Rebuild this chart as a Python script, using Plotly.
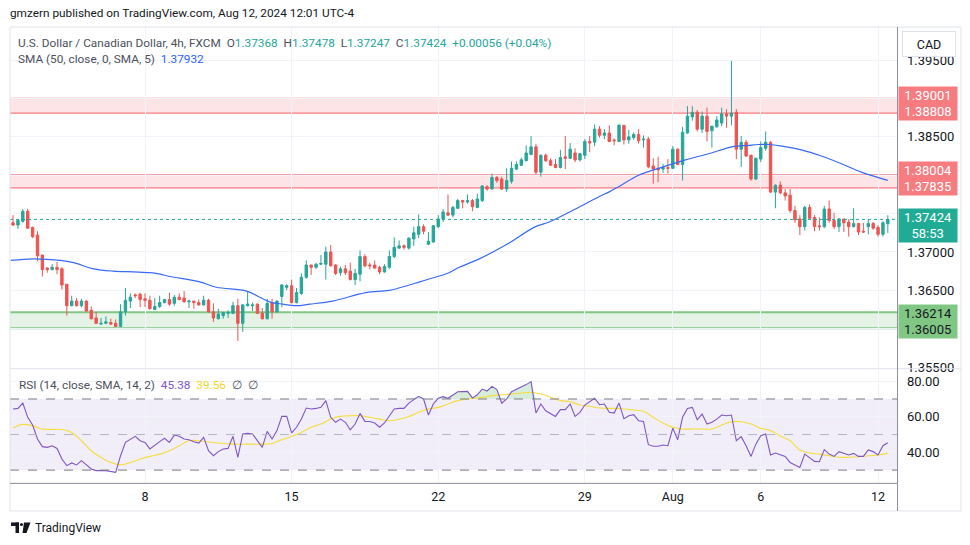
import plotly.graph_objects as go
import numpy as np

# ---------------- data ----------------
bar_pos = list(range(-27, 153))   # 4h bar positions (0 = Mon Jul 8 first bar)

opens = [1.3738,1.3735,1.3740,1.3753,1.3732,1.3722,1.3696,1.3679,1.3677,1.3680,
         1.3678,1.3658,1.3630,1.3636,1.3630,1.3636,1.3624,1.3614,1.3606,1.3607,
         1.3608,1.3607,1.3603,1.3622,1.3636,1.3644,1.3645,1.3639,1.3637,1.3625,
         1.3629,1.3634,1.3638,1.3633,1.3641,1.3640,1.3635,1.3636,1.3634,1.3631,
         1.3637,1.3622,1.3613,1.3617,1.3620,1.3620,1.3630,1.3607,1.3630,1.3630,
         1.3632,1.3620,1.3613,1.3634,1.3622,1.3642,1.3654,1.3656,1.3634,1.3646,
         1.3667,1.3683,1.3680,1.3684,1.3684,1.3700,1.3683,1.3673,1.3678,1.3675,
         1.3664,1.3671,1.3694,1.3683,1.3683,1.3680,1.3674,1.3680,1.3694,1.3705,
         1.3708,1.3705,1.3717,1.3723,1.3733,1.3710,1.3713,1.3733,1.3743,1.3751,
         1.3748,1.3757,1.3767,1.3765,1.3767,1.3758,1.3767,1.3785,1.3782,1.3797,
         1.3795,1.3782,1.3792,1.3808,1.3813,1.3819,1.3827,1.3837,1.3804,1.3826,
         1.3819,1.3814,1.3810,1.3824,1.3822,1.3829,1.3820,1.3826,1.3844,1.3843,
         1.3860,1.3852,1.3855,1.3846,1.3844,1.3865,1.3846,1.3849,1.3853,1.3846,
         1.3847,1.3812,1.3809,1.3808,1.3810,1.3809,1.3834,1.3814,1.3855,1.3876,
         1.3882,1.3860,1.3877,1.3858,1.3863,1.3868,1.3880,1.3877,1.3882,1.3834,
         1.3843,1.3826,1.3795,1.3821,1.3835,1.3843,1.3778,1.3787,1.3777,1.3774,
         1.3754,1.3743,1.3733,1.3758,1.3745,1.3734,1.3733,1.3756,1.3741,1.3733,
         1.3743,1.3739,1.3733,1.3737,1.3727,1.3733,1.3737,1.3732,1.3723,1.37368]
highs = [1.3748,1.3742,1.3756,1.3756,1.3733,1.3727,1.3696,1.3680,1.3684,1.3687,
         1.3680,1.3658,1.3643,1.3640,1.3639,1.3637,1.3629,1.3622,1.3614,1.3616,
         1.3613,1.3612,1.3632,1.3653,1.3646,1.3646,1.3647,1.3646,1.3643,1.3640,
         1.3643,1.3639,1.3647,1.3644,1.3646,1.3649,1.3638,1.3636,1.3638,1.3643,
         1.3639,1.3633,1.3626,1.3622,1.3624,1.3635,1.3639,1.3632,1.3649,1.3634,
         1.3633,1.3627,1.3639,1.3639,1.3637,1.3658,1.3658,1.3664,1.3653,1.3672,
         1.3689,1.3683,1.3686,1.3696,1.3707,1.3709,1.3684,1.3681,1.3683,1.3686,
         1.3678,1.3702,1.3697,1.3686,1.3689,1.3682,1.3684,1.3702,1.3719,1.3715,
         1.3710,1.3719,1.3733,1.3749,1.3736,1.3726,1.3735,1.3748,1.3756,1.3775,
         1.3760,1.3769,1.3768,1.3775,1.3769,1.3776,1.3787,1.3787,1.3802,1.3799,
         1.3798,1.3809,1.3818,1.3818,1.3823,1.3839,1.3851,1.3841,1.3827,1.3828,
         1.3822,1.3821,1.3833,1.3851,1.3842,1.3835,1.3829,1.3847,1.3851,1.3866,
         1.3864,1.3860,1.3865,1.3848,1.3867,1.3865,1.3859,1.3856,1.3860,1.3852,
         1.3850,1.3822,1.3824,1.3815,1.3821,1.3838,1.3835,1.3863,1.3890,1.3890,
         1.3885,1.3883,1.3888,1.3864,1.3877,1.3888,1.3886,1.3949,1.3886,1.3851,
         1.3846,1.3827,1.3823,1.3844,1.3857,1.3844,1.3788,1.3792,1.3782,1.3782,
         1.3760,1.3748,1.3760,1.3762,1.3748,1.3745,1.3760,1.3767,1.3751,1.3744,
         1.3743,1.3743,1.3757,1.3738,1.3738,1.3743,1.3739,1.3735,1.3740,1.37478]
lows = [1.3734,1.3730,1.3738,1.3730,1.3718,1.3688,1.3668,1.3673,1.3676,1.3671,
        1.3651,1.3617,1.3629,1.3629,1.3628,1.3622,1.3612,1.3606,1.3605,1.3606,
        1.3605,1.3602,1.3602,1.3617,1.3627,1.3640,1.3628,1.3628,1.3625,1.3624,
        1.3627,1.3633,1.3630,1.3630,1.3637,1.3634,1.3627,1.3626,1.3630,1.3630,
        1.3621,1.3609,1.3612,1.3613,1.3614,1.3619,1.3584,1.3596,1.3629,1.3623,
        1.3619,1.3612,1.3612,1.3613,1.3621,1.3628,1.3650,1.3633,1.3633,1.3644,
        1.3665,1.3670,1.3678,1.3683,1.3664,1.3681,1.3670,1.3669,1.3670,1.3663,
        1.3657,1.3662,1.3680,1.3677,1.3678,1.3671,1.3673,1.3678,1.3692,1.3704,
        1.3703,1.3703,1.3708,1.3718,1.3723,1.3709,1.3712,1.3731,1.3739,1.3747,
        1.3745,1.3756,1.3757,1.3763,1.3753,1.3757,1.3765,1.3780,1.3781,1.3790,
        1.3781,1.3778,1.3789,1.3807,1.3812,1.3818,1.3826,1.3801,1.3798,1.3817,
        1.3812,1.3809,1.3809,1.3808,1.3821,1.3817,1.3818,1.3821,1.3830,1.3838,
        1.3849,1.3847,1.3843,1.3839,1.3843,1.3840,1.3841,1.3846,1.3841,1.3836,
        1.3809,1.3789,1.3791,1.3803,1.3802,1.3808,1.3813,1.3793,1.3854,1.3871,
        1.3857,1.3855,1.3844,1.3836,1.3862,1.3864,1.3862,1.3865,1.3821,1.3811,
        1.3824,1.3793,1.3794,1.3817,1.3832,1.3777,1.3757,1.3775,1.3767,1.3751,
        1.3738,1.3722,1.3728,1.3743,1.3727,1.3728,1.3731,1.3738,1.3730,1.3726,
        1.3726,1.3720,1.3732,1.3722,1.3725,1.3723,1.3729,1.3720,1.3720,1.37247]
closes = [1.3735,1.3741,1.3753,1.3731,1.3720,1.3695,1.3677,1.3677,1.3680,1.3677,
          1.3657,1.3630,1.3636,1.3630,1.3636,1.3623,1.3613,1.3607,1.3607,1.3609,
          1.3606,1.3603,1.3622,1.3637,1.3641,1.3643,1.3638,1.3637,1.3626,1.3629,
          1.3634,1.3638,1.3632,1.3641,1.3638,1.3635,1.3636,1.3634,1.3631,1.3637,
          1.3622,1.3614,1.3619,1.3621,1.3621,1.3630,1.3607,1.3631,1.3632,1.3631,
          1.3620,1.3613,1.3633,1.3622,1.3636,1.3657,1.3656,1.3634,1.3647,1.3667,
          1.3683,1.3680,1.3684,1.3685,1.3700,1.3682,1.3672,1.3678,1.3673,1.3664,
          1.3672,1.3694,1.3682,1.3682,1.3679,1.3674,1.3681,1.3694,1.3706,1.3708,
          1.3706,1.3718,1.3725,1.3733,1.3727,1.3714,1.3734,1.3743,1.3752,1.3748,
          1.3758,1.3767,1.3765,1.3767,1.3759,1.3769,1.3786,1.3782,1.3797,1.3793,
          1.3782,1.3793,1.3809,1.3814,1.3820,1.3829,1.3837,1.3804,1.3826,1.3819,
          1.3813,1.3810,1.3823,1.3822,1.3834,1.3820,1.3828,1.3844,1.3842,1.3860,
          1.3852,1.3855,1.3844,1.3845,1.3865,1.3846,1.3850,1.3853,1.3845,1.3847,
          1.3811,1.3808,1.3807,1.3810,1.3809,1.3834,1.3814,1.3856,1.3877,1.3882,
          1.3860,1.3877,1.3857,1.3864,1.3872,1.3880,1.3877,1.3881,1.3834,1.3843,
          1.3825,1.3795,1.3822,1.3836,1.3843,1.3778,1.3787,1.3777,1.3773,1.3754,
          1.3742,1.3733,1.3758,1.3744,1.3733,1.3733,1.3756,1.3741,1.3733,1.3743,
          1.3738,1.3733,1.3737,1.3726,1.3726,1.3737,1.3731,1.3723,1.3738,1.37424]

sma_pos = [-27.5,-22.8,-17.3,-14.6,-10.5,-6.5,-2.4,1.0,3.1,5.1,11.2,14.6,20.8,23.5,25.5,28.2,
           31.0,33.7,38.4,45.2,50.0,54.1,58.8,62.2,64.3,68.4,73.8,79.9,82.7,88.1,90.8,92.9,
           94.9,96.9,101.0,105.1,110.6,115.3,120.1,123.5,125.5,127.6,130.3,134.3,138.4,142.5,
           146.6,152.0]
sma_vals = [1.3689,1.3691,1.3689,1.3686,1.3678,1.3675,1.3674,1.3673,1.3671,1.3668,1.3661,1.3654,
            1.3649,1.3641,1.3635,1.3632,1.3630,1.3632,1.3636,1.3647,1.3650,1.3657,1.3666,1.3673,
            1.3680,1.3691,1.3709,1.3733,1.3739,1.3756,1.3765,1.3772,1.3778,1.3785,1.3800,1.3809,
            1.3820,1.3828,1.3837,1.3839,1.3840,1.3840,1.3838,1.3833,1.3825,1.3815,1.3804,1.37932]

rsi_pos = [-27,-26,-25,-24,-23,-22,-21,-20,-19,-18,-17,-16,-15,-14,-13,-12,-11,-10,-9,-8,
           -6,-5,-4,-3,-2,-1,0,1,2,3,4,5,6,7,8,9,10,11,12,13,14,15,16,17,18,19,20,21,22,23,
           24,25,26,27,28,29,30,31,32,33,34,35,36,37,38,39,40,41,42,43,44,45,46,47,48,49,50,
           51,52,53,54,56,57,58,59,60,61,62,64,65,66,67,68,69,70,71,72,73,74,75,77,78,79,80,
           81,82,84,85,86,87,88,89,90,92,93,94,95,96,97,98,99,100,101,102,103,104,105,106,107,
           108,109,110,111,112,113,114,115,116,117,118,119,120,121,122,123,124,125,126,127,
           128,129,130,131,132,133,134,135,136,137,138,139,140,141,142,143,144,145,146,147,
           148,149,150,151,152]
rsi_vals = [64.4,64.7,67.7,59.7,55.4,47.5,43.2,42.8,43.7,42.2,36.2,32.5,34.0,32.9,35.3,32.9,
            30.6,29.7,29.7,29.7,28.7,38.1,45.6,47.5,49.0,46.5,45.6,41.9,43.7,46.0,47.9,45.6,
            49.7,49.0,47.5,47.1,46.0,45.2,48.4,40.9,38.1,40.4,41.9,42.2,49.0,37.2,50.3,50.7,
            50.3,46.5,42.8,51.8,47.5,52.2,60.2,60.2,50.9,54.1,58.7,64.9,64.4,64.7,65.3,69.1,
            59.7,56.9,58.7,56.9,52.7,55.9,61.9,57.4,57.3,56.5,54.1,56.5,60.6,64.4,64.7,64.7,
            67.7,71.5,70.0,61.0,67.2,70.4,71.3,70.4,74.1,74.1,74.3,70.6,72.4,75.6,74.5,77.1,
            75.3,67.6,70.0,74.1,76.6,78.1,79.8,62.1,67.2,63.4,60.2,64.0,64.0,67.2,60.2,62.5,
            66.6,70.4,66.8,67.2,62.5,62.1,67.7,58.9,60.6,61.2,57.8,57.4,44.3,43.4,43.4,44.1,
            43.7,53.6,47.1,59.7,64.7,65.3,58.3,61.5,55.9,56.9,58.7,61.0,60.6,61.0,46.5,48.8,
            43.7,37.7,44.6,49.3,50.3,38.5,39.6,38.7,37.7,34.3,32.8,31.5,39.0,37.2,34.9,34.7,
            41.5,39.0,37.7,40.4,39.6,38.5,39.4,37.7,37.7,41.3,40.4,38.5,43.7,45.38]

rsi_ma_pos = [-27,-25,-23,-21,-17,-15,-13,-11,-9,-7,-5,-3,-1,1,3,5,7,9,11,15,18,21,24,26,28,
              30,32,34,36,38,40,42,44,46,48,50,52,54,56,58,60,62,64,66,69,71,73,75,77,79,81,
              83,85,87,89,91,93,96,98,100,102,104,106,108,110,112,114,116,118,120,122,124,126,
              128,130,132,134,136,138,140,142,144,146,148,150,152]
rsi_ma_vals = [53.7,55.7,55.0,53.1,52.8,51.2,46.5,40.9,37.2,34.3,33.0,34.3,36.2,37.7,39.0,40.9,
               43.7,46.5,46.5,45.2,44.6,44.6,44.6,45.0,47.1,48.9,51.2,54.1,55.9,58.7,60.2,60.6,
               60.6,59.7,58.7,57.8,58.7,60.2,62.5,64.4,65.3,67.2,69.1,70.0,70.9,71.9,72.4,72.8,
               73.4,73.8,72.8,71.0,69.1,68.5,66.6,65.9,64.9,64.7,64.4,63.8,63.1,59.7,56.5,54.1,
               53.1,53.1,53.1,53.1,55.4,57.2,57.2,55.9,53.6,52.2,49.3,46.5,41.3,39.6,39.0,38.1,
               37.2,37.2,37.5,38.1,38.5,39.56]

week_tick_pos = [0, 30, 60, 90, 108, 126, 150]
week_tick_text = ["8", "15", "22", "29", "Aug", "6", "12"]

main_ticks = [1.355, 1.360, 1.365, 1.370, 1.375, 1.380, 1.385, 1.390, 1.395]
main_tick_text = ["1.35500", "", "1.36500", "1.37000", "", "", "1.38500", "", "1.39500"]
rsi_ticks = [40, 60, 80]

zone_hi_top, zone_hi_bot = 1.39001, 1.38808
zone_mid_top, zone_mid_bot = 1.38004, 1.37835
zone_lo_top, zone_lo_bot = 1.36214, 1.36005
last_price = 1.37424

# ---------------- layout helpers ----------------
# positions are expressed in reference pixels (970 x 545) and converted to paper fractions
W, H = 970, 545
FIG_H = 553          # captured page is squeezed vertically by ~545/553
def fx(p): return p / W
def fy(p): return 1 - p / H

FONT = "Roboto, sans-serif"
UP, DN = "#26a69a", "#ef5350"
GRID = "#f0f3fa"
TXT = "#131722"
AX = "#8c8f99"

x_rng = [(10 - 145) / 4.887, (897 - 145) / 4.887]

fig = go.Figure()

fig.add_trace(go.Candlestick(
    x=bar_pos, open=opens, high=highs, low=lows, close=closes,
    increasing=dict(line=dict(color=UP, width=1), fillcolor=UP),
    decreasing=dict(line=dict(color=DN, width=1), fillcolor=DN),
    whiskerwidth=0, showlegend=False, hoverinfo="skip", xaxis="x", yaxis="y"))

fig.add_trace(go.Scatter(x=sma_pos, y=sma_vals, mode="lines",
                         line=dict(color="#3a6af5", width=1.2, shape="spline"),
                         showlegend=False, hoverinfo="skip", xaxis="x", yaxis="y"))

# RSI overbought fill
rsi_arr = np.array(rsi_vals)
fig.add_trace(go.Scatter(x=rsi_pos, y=[70] * len(rsi_pos), mode="lines",
                         line=dict(width=0), showlegend=False, hoverinfo="skip",
                         xaxis="x2", yaxis="y2"))
fig.add_trace(go.Scatter(x=rsi_pos, y=np.maximum(rsi_arr, 70), mode="lines",
                         line=dict(width=0), fill="tonexty",
                         fillcolor="rgba(76,175,80,0.22)", showlegend=False,
                         hoverinfo="skip", xaxis="x2", yaxis="y2"))
fig.add_trace(go.Scatter(x=rsi_ma_pos, y=rsi_ma_vals, mode="lines",
                         line=dict(color="#f5dd3b", width=1.1, shape="spline"),
                         showlegend=False, hoverinfo="skip", xaxis="x2", yaxis="y2"))
fig.add_trace(go.Scatter(x=rsi_pos, y=rsi_vals, mode="lines",
                         line=dict(color="#7e57c2", width=1.1),
                         showlegend=False, hoverinfo="skip", xaxis="x2", yaxis="y2"))

shapes = []
# RSI background band and levels
shapes.append(dict(type="rect", xref="x2 domain", yref="y2", x0=0, x1=1, y0=30, y1=70,
                   fillcolor="rgba(126,87,194,0.10)", line=dict(width=0), layer="below"))
for lvl, col in [(70, "#787b86"), (50, "#b2b5be"), (30, "#787b86")]:
    shapes.append(dict(type="line", xref="x2 domain", yref="y2", x0=0, x1=1, y0=lvl, y1=lvl,
                       line=dict(color=col, width=1, dash="dash")))
# zones
for top, bot, fill, edge, w in [
        (zone_hi_top, zone_hi_bot, "rgba(242,54,69,0.13)", "#f77c80", 1.3),
        (zone_mid_top, zone_mid_bot, "rgba(242,54,69,0.13)", "#f77c80", 1.3),
        (zone_lo_top, zone_lo_bot, "rgba(76,175,80,0.15)", "#81c784", 2)]:
    shapes.append(dict(type="rect", xref="x domain", yref="y", x0=0, x1=1, y0=bot, y1=top,
                       fillcolor=fill, line=dict(width=0), layer="below"))
    for yy in (top, bot):
        shapes.append(dict(type="line", xref="x domain", yref="y", x0=0, x1=1, y0=yy, y1=yy,
                           line=dict(color=edge, width=w), layer="below"))
# last price dotted line
shapes.append(dict(type="line", xref="x domain", yref="y", x0=0, x1=1,
                   y0=last_price, y1=last_price, line=dict(color=UP, width=1, dash="dot")))
# frame and separators
shapes.append(dict(type="rect", xref="paper", yref="paper", x0=fx(10), x1=fx(961),
                   y0=fy(510), y1=fy(27), line=dict(color="#e0e3eb", width=1)))
shapes.append(dict(type="line", xref="paper", yref="paper", x0=fx(10), x1=fx(961),
                   y0=fy(368), y1=fy(368), line=dict(color="#e0e3eb", width=1)))
shapes.append(dict(type="line", xref="paper", yref="paper", x0=fx(10), x1=fx(897),
                   y0=fy(482.5), y1=fy(482.5), line=dict(color=AX, width=1)))
shapes.append(dict(type="line", xref="paper", yref="paper", x0=fx(897.5), x1=fx(897.5),
                   y0=fy(510), y1=fy(27), line=dict(color=AX, width=1)))
# TradingView logo glyph
shapes += [
    dict(type="rect", xref="paper", yref="paper", x0=fx(11), x1=fx(19), y0=fy(525), y1=fy(521.5),
         fillcolor=TXT, line=dict(width=0)),
    dict(type="rect", xref="paper", yref="paper", x0=fx(15.5), x1=fx(19), y0=fy(532), y1=fy(521.5),
         fillcolor=TXT, line=dict(width=0)),
    dict(type="circle", xref="paper", yref="paper", x0=fx(20), x1=fx(23), y0=fy(525), y1=fy(522),
         fillcolor=TXT, line=dict(width=0)),
    dict(type="path", xref="paper", yref="paper",
         path=f"M {fx(24)} {fy(521.5)} L {fx(30.5)} {fy(521.5)} L {fx(26.5)} {fy(532)} L {fx(22.5)} {fy(532)} Z",
         fillcolor=TXT, line=dict(width=0)),
]

ann = []
def text(px, py, s, size=12, color=TXT, anchor="left"):
    ann.append(dict(x=fx(px), y=fy(py), xref="paper", yref="paper", text=s, showarrow=False,
                    xanchor=anchor, yanchor="middle", font=dict(size=size, color=color, family=FONT)))

text(8, 13, "gmzern published on TradingView.com, Aug 12, 2024 12:01 UTC-4", 11.8)
G = "#4d505b"
legend = (f"<span style='color:{G}'>U.S. Dollar / Canadian Dollar, 4h, FXCM</span>"
          f"  <span style='color:{G}'>O</span><span style='color:{UP}'>1.37368</span>"
          f"  <span style='color:{G}'>H</span><span style='color:{UP}'>1.37478</span>"
          f"  <span style='color:{G}'>L</span><span style='color:{UP}'>1.37247</span>"
          f"  <span style='color:{G}'>C</span><span style='color:{UP}'>1.37424</span>"
          f"  <span style='color:{UP}'>+0.00056 (+0.04%)</span>")
text(16, 43, legend, 11.8)
text(16, 59, f"<span style='color:{G}'>SMA (50, close, 0, SMA, 5)</span>  "
             f"<span style='color:#2962ff'>1.37932</span>", 11.8)
text(17, 384, f"<span style='color:{G}'>RSI (14, close, SMA, 14, 2)</span>  "
              f"<span style='color:#7e57c2'>45.38</span>  <span style='color:#f5d52b'>39.56</span>"
              f"  <span style='color:{G}'>∅  ∅</span>", 11.8)
text(33, 527, "TradingView", 12)

def box(py_c, h, s, bg, fg):
    ann.append(dict(x=fx(898), y=fy(py_c), xref="paper", yref="paper", text=s, showarrow=False,
                    xanchor="left", yanchor="middle", width=58, height=h, bgcolor=bg,
                    borderpad=0, align="center",
                    font=dict(size=13, color=fg, family=FONT)))
box(103.5, 33, f"{zone_hi_top:.5f}<br>{zone_hi_bot:.5f}", "#f77c80", "white")
box(178.5, 33, f"{zone_mid_top:.5f}<br>{zone_mid_bot:.5f}", "#f77c80", "white")
box(225.5, 33, f"{last_price:.5f}<br>58:53", "#22ab94", "white")
box(320.5, 33, f"{zone_lo_top:.5f}<br>{zone_lo_bot:.5f}", "#81c784", TXT)
ann.append(dict(x=fx(929), y=fy(43.5), xref="paper", yref="paper", text="CAD", showarrow=False,
                xanchor="center", yanchor="middle", width=52, height=24, bgcolor="white",
                bordercolor="#e0e3eb", borderwidth=1, borderpad=0,
                font=dict(size=12.5, color=TXT, family=FONT)))

fig.update_layout(
    width=W, height=FIG_H, margin=dict(l=0, r=0, t=0, b=0),
    paper_bgcolor="white", plot_bgcolor="white",
    font=dict(family=FONT, size=12, color=TXT),
    showlegend=False, shapes=shapes, annotations=ann, hovermode=False,
    xaxis=dict(domain=[fx(10), fx(897)], range=x_rng, anchor="y", tickmode="array",
               tickvals=week_tick_pos, showticklabels=False, showgrid=True, gridcolor=GRID,
               zeroline=False, rangeslider=dict(visible=False), ticks="", showline=False),
    yaxis=dict(domain=[fy(367), fy(27)], range=[1.354921, 1.399308], side="right",
               tickmode="array", tickvals=main_ticks, ticktext=main_tick_text, showgrid=True,
               gridcolor=GRID, zeroline=False, ticks="", ticklabelstandoff=9,
               tickfont=dict(size=13, color=TXT, family=FONT)),
    xaxis2=dict(domain=[fx(10), fx(897)], range=x_rng, anchor="y2", tickmode="array",
                tickvals=week_tick_pos, ticktext=week_tick_text, showgrid=True, gridcolor=GRID,
                zeroline=False, ticks="", ticklabelstandoff=5,
                tickfont=dict(size=12.5, color=TXT, family=FONT)),
    yaxis2=dict(domain=[fy(482), fy(369)], range=[22.8, 86.5], side="right",
                tickmode="array", tickvals=rsi_ticks, ticktext=[f"{v:.2f}" for v in rsi_ticks],
                showgrid=True, gridcolor=GRID, zeroline=False, ticks="", ticklabelstandoff=9,
                tickfont=dict(size=13, color=TXT, family=FONT)),
)

fig.write_html("out.html", config={"displayModeBar": False},
               post_script="document.body.style.margin='0px';")
